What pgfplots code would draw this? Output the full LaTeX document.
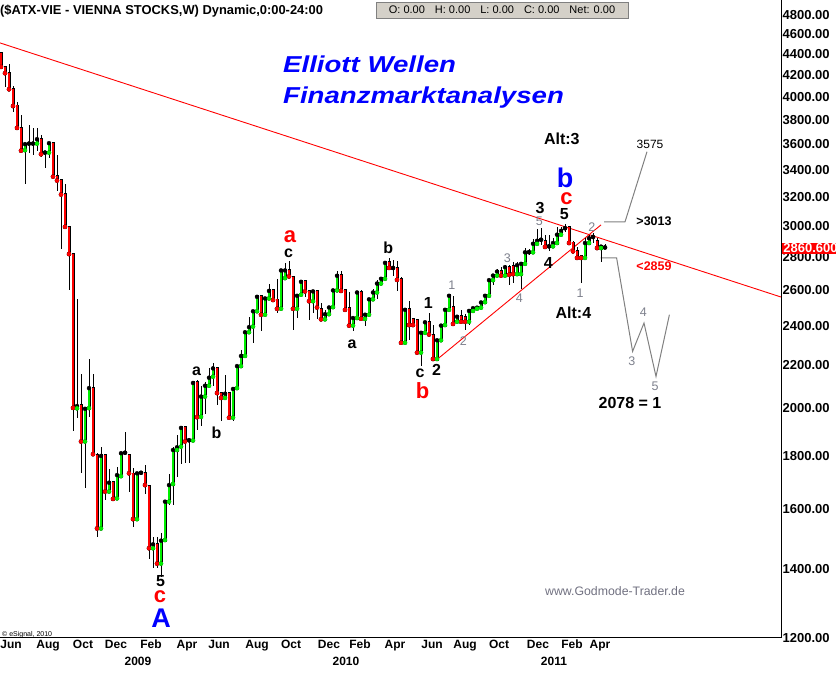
\documentclass[border=0pt]{standalone}
\usepackage{fontspec}
\setmainfont{Liberation Sans}
\usepackage{graphicx}
\usepackage{pgfplots}
\usepackage{pgfplotstable}
\pgfplotsset{compat=1.18}
\definecolor{cgreen}{RGB}{0,240,0}
\definecolor{wgray}{RGB}{125,128,140}
\definecolor{tbgray}{RGB}{212,208,200}
\definecolor{wmgray}{RGB}{112,112,128}

\pgfplotstableread{
i o h l c
0 4400 4420 4265 4274
1 4271 4283 4091 4215
2 4208 4302 4060 4067
3 4061 4097 3869 3919
4 3919 3954 3723 3732
5 3729 3841 3548 3548
6 3552 3602 3298 3600
7 3604 3757 3533 3604
8 3604 3734 3515 3604
9 3604 3734 3548 3640
10 3640 3673 3497 3520
11 3533 3541 3417 3533
12 3533 3620 3494 3608
13 3608 3610 3345 3349
14 3347 3515 3240 3320
15 3318 3318 2852 3218
16 3216 3296 2990 2995
17 2993 2999 2604 2819
18 2815 2820 1903 2002
19 2000 2552 1958 2010
20 2011 2160 1732 1858
21 1858 2000 1674 1998
22 2001 2232 1963 2092
23 2092 2160 1803 1806
24 1802 1810 1503 1531
25 1531 1837 1528 1799
26 1799 1802 1631 1662
27 1662 1747 1658 1695
28 1695 1700 1631 1635
29 1637 1757 1635 1724
30 1720 1812 1718 1810
31 1812 1898 1806 1812
32 1802 1806 1662 1731
33 1728 1751 1535 1563
34 1563 1733 1560 1731
35 1733 1738 1730 1733
36 1731 1763 1654 1686
37 1682 1685 1430 1465
38 1465 1501 1401 1478
39 1478 1501 1401 1416
40 1416 1515 1375 1490
41 1492 1631 1490 1625
42 1625 1728 1614 1686
43 1690 1837 1614 1823
44 1823 1885 1717 1834
45 1837 1920 1767 1915
46 1915 1917 1770 1858
47 1863 1866 1770 1863
48 1862 2124 1860 2116
49 2116 2131 1907 1961
50 1963 2100 1924 2053
51 2053 2119 1976 2103
52 2103 2186 2100 2141
53 2146 2214 2100 2186
54 2186 2188 2016 2069
55 2066 2070 1943 2047
56 2047 2155 2045 2066
57 2065 2068 1957 1959
58 1959 2089 1943 2088
59 2092 2199 2090 2197
60 2197 2278 2195 2247
61 2247 2374 2244 2369
62 2369 2452 2367 2396
63 2399 2491 2314 2482
64 2482 2569 2480 2563
65 2563 2569 2374 2463
66 2463 2560 2460 2554
67 2554 2640 2552 2597
68 2597 2606 2543 2545
69 2545 2665 2471 2496
70 2496 2720 2494 2718
71 2672 2764 2670 2718
72 2718 2774 2680 2682
73 2678 2680 2383 2496
74 2496 2578 2445 2569
75 2575 2660 2573 2650
76 2650 2660 2560 2594
77 2594 2596 2436 2538
78 2538 2605 2471 2594
79 2594 2605 2440 2503
80 2490 2530 2436 2438
81 2438 2490 2436 2466
82 2466 2511 2464 2503
83 2505 2605 2503 2600
84 2600 2712 2598 2686
85 2686 2712 2595 2597
86 2597 2600 2480 2490
87 2496 2588 2402 2404
88 2404 2447 2374 2445
89 2445 2590 2443 2588
90 2588 2600 2436 2441
91 2440 2466 2404 2463
92 2463 2551 2460 2549
93 2549 2606 2547 2588
94 2588 2662 2549 2640
95 2640 2673 2638 2668
96 2668 2766 2666 2764
97 2764 2796 2730 2733
98 2733 2783 2682 2733
99 2728 2774 2597 2662
100 2662 2681 2310 2314
101 2314 2492 2312 2490
102 2490 2538 2330 2407
103 2438 2447 2400 2407
104 2433 2440 2262 2264
105 2264 2368 2196 2366
106 2366 2425 2364 2422
107 2422 2470 2355 2357
108 2352 2407 2228 2232
109 2232 2330 2228 2327
110 2327 2406 2325 2404
111 2407 2493 2405 2490
112 2490 2571 2488 2569
113 2503 2569 2411 2413
114 2425 2455 2411 2452
115 2452 2490 2411 2425
116 2447 2466 2383 2425
117 2425 2490 2407 2484
118 2484 2505 2480 2499
119 2496 2512 2490 2502
120 2502 2541 2500 2531
121 2533 2572 2531 2569
122 2569 2669 2567 2660
123 2660 2696 2632 2687
124 2687 2724 2685 2711
125 2711 2738 2678 2687
126 2687 2750 2678 2738
127 2738 2750 2632 2692
128 2744 2772 2646 2696
129 2696 2772 2694 2750
130 2696 2762 2606 2758
131 2758 2860 2756 2830
132 2831 2848 2812 2831
133 2830 2914 2828 2884
134 2884 2981 2880 2903
135 2910 2988 2878 2910
136 2899 2943 2859 2864
137 2868 2943 2836 2868
138 2868 2920 2859 2889
139 2889 2996 2887 2943
140 2943 2996 2941 2968
141 2986 3014 2962 2986
142 2988 2996 2878 2889
143 2889 2903 2828 2836
144 2836 2866 2783 2795
145 2806 2815 2641 2795
146 2795 2920 2793 2889
147 2889 2943 2887 2920
148 2928 2953 2889 2928
149 2899 2922 2855 2857
150 2857 2870 2770 2866
151 2860.6 2882 2855 2860.6
}\candles

\begin{document}
\begin{tikzpicture}[x=1pt,y=1pt,
  wl/.style={font=\fontsize{16}{16}\selectfont\bfseries, inner sep=0pt},
  rl/.style={font=\fontsize{22}{22}\selectfont\bfseries, inner sep=0pt, text=red},
  bl/.style={font=\fontsize{27}{27}\selectfont\bfseries, inner sep=0pt, text=blue},
  gl/.style={font=\fontsize{12.5}{12.5}\selectfont, inner sep=0pt, text=wgray}]
\useasboundingbox (0,-37) rectangle (836,638);
\begin{axis}[
  at={(0,0)}, anchor=south west,
  scale only axis, width=781pt, height=638pt,
  xmin=-0.25, xmax=195, ymode=log, ymin=1200, ymax=4961,
  axis x line*=bottom, axis y line*=right,
  axis line style={black, line width=1pt},
  clip=false,
  major tick length=0pt, minor tick length=0pt,
  xtick={2.5,11.75,20.5,28.75,37.5,46.5,54.5,64,72.5,82,89.75,98.5,107.75,116,124.5,134.25,142.75,149.75},
  xticklabels={Jun,Aug,Oct,Dec,Feb,Apr,Jun,Aug,Oct,Dec,Feb,Apr,Jun,Aug,Oct,Dec,Feb,Apr},
  extra x ticks={34.25,86.25,138.25},
  extra x tick labels={2009,2010,2011},
  extra x tick style={major tick length=0pt, tick label style={yshift=-17pt}},
  xticklabel style={font=\fontsize{12}{12}\selectfont\bfseries, inner sep=2pt},
  ytick={1200,1400,1600,1800,2000,2200,2400,2600,2800,3000,3200,3400,3600,3800,4000,4200,4400,4600,4800},
  yticklabels={1200.00,1400.00,1600.00,1800.00,2000.00,2200.00,2400.00,2600.00,2800.00,3000.00,3200.00,3400.00,3600.00,3800.00,4000.00,4200.00,4400.00,4600.00,4800.00},
  yticklabel style={font=\fontsize{13}{13}\selectfont\bfseries, anchor=west, inner sep=1.5pt},
]
% trend lines
\addplot[red, line width=0.9pt] coordinates {(-0.25,4509) (195,2562)};
\addplot[red, line width=0.9pt] coordinates {(108.9,2228) (150,3008)};
% projections
\addplot[gray, line width=1pt] coordinates {(150.75,3028) (156,3028) (161.5,3540)};
\addplot[gray, line width=1pt] coordinates {(149.9,2795) (153.9,2795) (157.9,2270) (160.75,2418) (163.75,2147) (167.1,2463)};
% wicks
\addplot[only marks, mark=none, black, error bars/.cd, y dir=both, y explicit,
  error mark=none, error bar style={black, line width=1pt}]
  table[x=i, y=c, y error plus expr=\thisrow{h}-\thisrow{c}, y error minus expr=\thisrow{c}-\thisrow{l}] {\candles};
% body outlines
\addplot[only marks, mark=none, black, error bars/.cd, y dir=plus, y explicit,
  error mark=none, error bar style={black, line width=3pt, line cap=rect}]
  table[x=i, y expr={min(\thisrow{o},\thisrow{c})}, y error plus expr={abs(\thisrow{c}-\thisrow{o})}] {\candles};
% red bodies
\addplot[only marks, mark=none, red, restrict x to domain=-10:300, error bars/.cd, y dir=plus, y explicit,
  error mark=none, error bar style={red, line width=1.2pt, line cap=rect}]
  table[x expr={\thisrow{c}<\thisrow{o} ? \thisrow{i} : -1000}, y=c, y error plus expr={\thisrow{o}-\thisrow{c}}] {\candles};
% green bodies
\addplot[only marks, mark=none, cgreen, restrict x to domain=-10:300, error bars/.cd, y dir=plus, y explicit,
  error mark=none, error bar style={cgreen, line width=1.2pt, line cap=rect}]
  table[x expr={\thisrow{c}>\thisrow{o} ? \thisrow{i} : -1000}, y=o, y error plus expr={\thisrow{c}-\thisrow{o}}] {\candles};

% wave labels
\node[bl] at (axis cs:40,1255) {A};
\node[rl] at (axis cs:39.75,1315) {c};
\node[wl] at (axis cs:39.9,1362) {5};
\node[wl] at (axis cs:48.9,2171) {a};
\node[wl] at (axis cs:53.9,1895) {b};
\node[wl] at (axis cs:71.9,2825) {c};
\node[rl] at (axis cs:72.25,2929) {a};
\node[wl] at (axis cs:87.75,2307) {a};
\node[wl] at (axis cs:96.8,2860) {b};
\node[wl] at (axis cs:106.8,2527) {1};
\node[wl] at (axis cs:104.75,2160) {c};
\node[wl] at (axis cs:108.9,2179) {2};
\node[rl] at (axis cs:105.4,2081) {b};
\node[gl] at (axis cs:112.7,2632) {1};
\node[gl] at (axis cs:115.6,2321) {2};
\node[gl] at (axis cs:126.6,2794) {3};
\node[gl] at (axis cs:129.6,2556) {4};
\node[wl] at (axis cs:134.75,3122) {3};
\node[gl] at (axis cs:134.6,3030) {5};
\node[wl] at (axis cs:136.8,2766) {4};
\node[wl] at (axis cs:140.8,3080) {5};
\node[rl] at (axis cs:141.4,3187) {c};
\node[bl] at (axis cs:141,3337) {b};
\node[wl] at (axis cs:140.2,3640) {Alt:3};
\node[gl] at (axis cs:147.7,2996) {2};
\node[gl] at (axis cs:144.75,2586) {1};
\node[wl] at (axis cs:143.1,2475) {Alt:4};
\node[font=\fontsize{12}{12}\selectfont, inner sep=0pt] at (axis cs:162.25,3602) {3575};
\node[font=\fontsize{12.5}{12.5}\selectfont\bfseries, inner sep=0pt] at (axis cs:163.25,3036) {>3013};
\node[font=\fontsize{12.5}{12.5}\selectfont\bfseries, inner sep=0pt, text=red] at (axis cs:163.25,2746) {<2859};
\node[gl] at (axis cs:160.6,2475) {4};
\node[gl] at (axis cs:157.7,2220) {3};
\node[gl] at (axis cs:163.5,2099) {5};
\node[wl] at (axis cs:157.25,2023) {2078 = 1};
\end{axis}
% texts around
\node[anchor=base west, inner sep=0pt, font=\fontsize{12.9}{12.9}\selectfont\bfseries] at (0,623.5) {(\$ATX-VIE - VIENNA STOCKS,W) Dynamic,0:00-24:00};
\node[draw=gray, fill=tbgray, minimum width=252pt, minimum height=16pt, inner sep=0pt,
  font=\fontsize{11}{11}\selectfont] at (502,628) {O: 0.00\hspace{10pt}H: 0.00\hspace{10pt}L: 0.00\hspace{10pt}C: 0.00\hspace{10pt}Net: 0.00};
\node[anchor=base west, inner sep=0pt, text=blue, font=\fontsize{23}{23}\selectfont\bfseries\itshape] at (283,565) {\scalebox{1.2}[1]{Elliott Wellen}};
\node[anchor=base west, inner sep=0pt, text=blue, font=\fontsize{23}{23}\selectfont\bfseries\itshape] at (283,534) {\scalebox{1.2}[1]{Finanzmarktanalysen}};
\node[anchor=west, inner sep=0pt, text=wmgray, font=\fontsize{12.3}{12.3}\selectfont] at (545,47) {www.Godmode-Trader.de};
\node[anchor=west, inner sep=0pt, font=\fontsize{7}{7}\selectfont] at (2,3.5) {\textcopyright\ eSignal, 2010};
\node[anchor=west, fill=red, text=white, inner sep=1.2pt, font=\fontsize{13}{13}\selectfont\bfseries] at (782,389.5) {2860.600};
\end{tikzpicture}
\end{document}
